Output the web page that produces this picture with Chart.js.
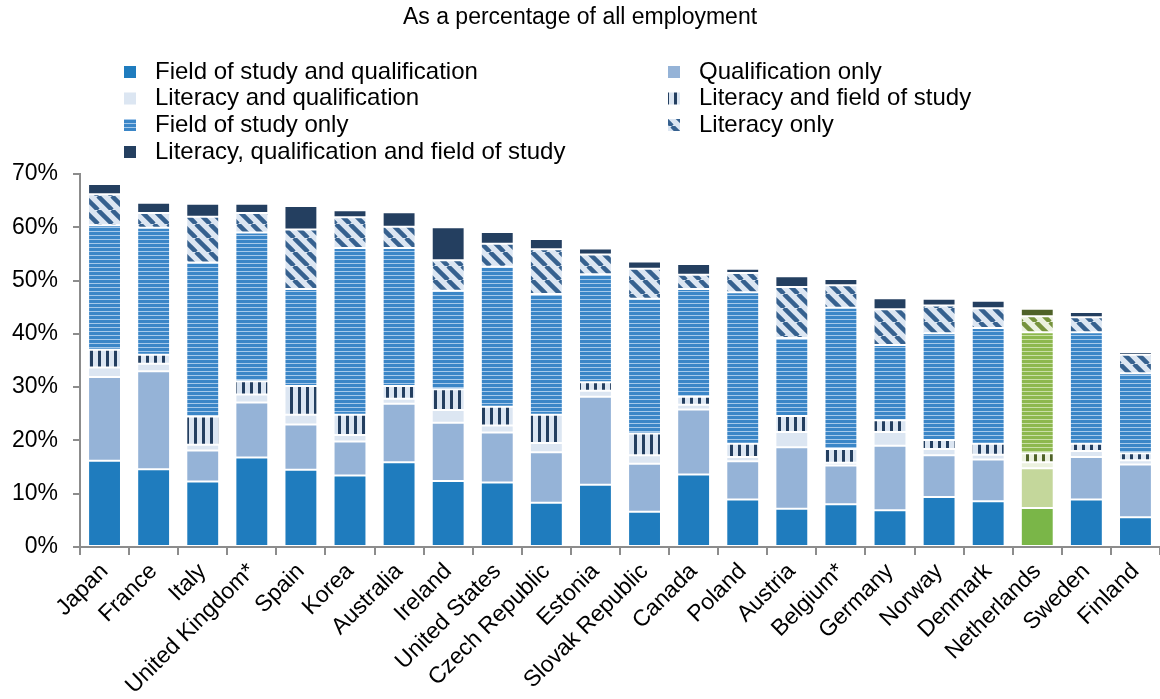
<!DOCTYPE html>
<html>
<head>
<meta charset="utf-8">
<script src="https://cdn.jsdelivr.net/npm/chart.js@4/dist/chart.umd.min.js"></script>
<style>
  html, body { margin: 0; padding: 0; background: #fff; }
  #chart { display: block; }
</style>
</head>
<body>
<canvas id="chart" width="1160" height="699"></canvas>
<script>
// data, % of all employment
const countries = ['Japan', 'France', 'Italy', 'United Kingdom*', 'Spain', 'Korea', 'Australia', 'Ireland',
  'United States', 'Czech Republic', 'Estonia', 'Slovak Republic', 'Canada', 'Poland', 'Austria',
  'Belgium*', 'Germany', 'Norway', 'Denmark', 'Netherlands', 'Sweden', 'Finland'];
const fieldAndQual = [16.2, 14.6, 12.3, 16.8, 14.5, 13.4, 15.9, 12.4, 12.1, 8.3, 11.7, 6.6, 13.6, 8.9, 7.2, 8.0, 6.9, 9.4, 8.6, 7.3, 8.9, 5.6];
const qualOnly = [15.7, 18.4, 5.8, 10.3, 8.5, 6.4, 11.0, 10.9, 9.4, 9.5, 16.5, 9.0, 12.2, 7.2, 11.5, 7.3, 12.1, 7.8, 7.8, 7.5, 8.0, 9.9];
const litAndQual = [1.8, 1.4, 1.1, 1.5, 1.8, 1.2, 0.9, 2.4, 1.3, 1.7, 1.1, 1.6, 0.9, 0.8, 2.9, 0.5, 2.6, 1.2, 0.9, 1.1, 1.1, 0.8];
const litAndField = [3.3, 1.7, 5.3, 2.5, 5.4, 3.8, 2.4, 3.9, 3.5, 5.3, 1.6, 4.1, 1.5, 2.5, 3.0, 2.6, 2.2, 1.7, 2.1, 1.7, 1.4, 1.3];
const fieldOnly = [23.4, 23.8, 28.9, 27.9, 18.2, 31.3, 25.9, 18.5, 26.3, 22.7, 20.3, 25.3, 20.2, 28.4, 14.6, 26.5, 14.1, 20.0, 21.7, 22.7, 20.9, 15.0];
const litOnly = [5.8, 2.8, 8.6, 3.7, 11.2, 5.8, 4.0, 5.7, 4.3, 8.4, 3.7, 5.6, 2.7, 3.6, 9.6, 4.2, 6.7, 5.2, 3.7, 3.0, 2.8, 3.5];
const litQualField = [1.9, 1.9, 2.4, 1.7, 4.4, 1.3, 2.7, 6.2, 2.2, 1.9, 1.1, 1.4, 2.0, 0.8, 2.0, 1.2, 2.1, 1.3, 1.4, 1.4, 1.0, 0.5];
const yTicks = [0, 10, 20, 30, 40, 50, 60, 70];
const highlight = 'Netherlands';

const FONT = "'Liberation Sans', Arial, sans-serif";

// small tiles for the hatched series
function makePattern(w, h, paint) {
  const c = document.createElement('canvas');
  c.width = w;
  c.height = h;
  const g = c.getContext('2d');
  paint(g, w, h);
  return g.createPattern(c, 'repeat');
}
function hStripes(fg, bg) {
  return makePattern(4, 4, (g) => {
    g.fillStyle = bg; g.fillRect(0, 0, 4, 4);
    g.fillStyle = fg; g.fillRect(0, 0, 4, 3);
  });
}
function vStripes(fg, bg) {
  return makePattern(8, 2, (g) => {
    g.fillStyle = bg; g.fillRect(0, 0, 8, 2);
    g.fillStyle = fg; g.fillRect(2, 0, 3, 2);
  });
}
function diagStripes(fg, bg) {
  const s = 14;
  return makePattern(s, s, (g) => {
    g.fillStyle = bg; g.fillRect(0, 0, s, s);
    g.strokeStyle = fg; g.lineWidth = 4.5;
    [-s, 0, s].forEach(k => {
      g.beginPath(); g.moveTo(k, 0); g.lineTo(k + s, s); g.stroke();
    });
  });
}

const blue = {
  fq: '#1F7CBE', q: '#95B3D7', lq: '#DCE6F2',
  lf: vStripes('#243F60', '#DCE6F2'),
  f: hStripes('#3B86C7', '#A6C9EA'),
  l: diagStripes('#36618F', '#DCE6F2'),
  lqf: '#243F60'
};
const green = {
  fq: '#7AB648', q: '#C4D79B', lq: '#EBF1DE',
  lf: vStripes('#4F6228', '#EBF1DE'),
  f: hStripes('#8DB84E', '#C9DFA6'),
  l: diagStripes('#76933C', '#EBF1DE'),
  lqf: '#4F6228'
};

const series = [
  { label: 'Field of study and qualification', data: fieldAndQual, key: 'fq', col: 0, row: 0 },
  { label: 'Qualification only', data: qualOnly, key: 'q', col: 1, row: 0 },
  { label: 'Literacy and qualification', data: litAndQual, key: 'lq', col: 0, row: 1 },
  { label: 'Literacy and field of study', data: litAndField, key: 'lf', col: 1, row: 1 },
  { label: 'Field of study only', data: fieldOnly, key: 'f', col: 0, row: 2 },
  { label: 'Literacy only', data: litOnly, key: 'l', col: 1, row: 2 },
  { label: 'Literacy, qualification and field of study', data: litQualField, key: 'lqf', col: 0, row: 3 }
];

const hiIndex = countries.indexOf(highlight);

// title + two column legend, drawn on the canvas
const headerPlugin = {
  id: 'header',
  afterDraw(chart) {
    const ctx = chart.ctx;
    ctx.save();
    ctx.fillStyle = '#000';
    ctx.textBaseline = 'middle';
    ctx.font = '23px ' + FONT;
    ctx.textAlign = 'center';
    ctx.fillText('As a percentage of all employment', 580, 18);

    ctx.font = '24px ' + FONT;
    ctx.textAlign = 'left';
    const colX = [124, 668];
    const textX = [155, 699];
    const rowY = [72, 98.5, 125, 152];
    series.forEach(s => {
      const y = rowY[s.row];
      ctx.fillStyle = blue[s.key];
      ctx.fillRect(colX[s.col], y - 6, 12, 12);
      ctx.fillStyle = '#000';
      ctx.fillText(s.label, textX[s.col], y);
    });
    ctx.restore();
  }
};

new Chart(document.getElementById('chart'), {
  type: 'bar',
  data: {
    labels: countries,
    datasets: series.map(s => ({
      label: s.label,
      data: s.data,
      backgroundColor: (c) => (c.dataIndex === hiIndex ? green : blue)[s.key],
      borderColor: 'rgba(255,255,255,0.45)',
      borderWidth: 1,
      borderSkipped: false,
      barPercentage: 0.67,
      categoryPercentage: 1.0
    }))
  },
  options: {
    responsive: false,
    animation: false,
    layout: { padding: { top: 174, left: 0, right: 0, bottom: 0 } },
    plugins: {
      legend: { display: false },
      title: { display: false },
      tooltip: { enabled: false }
    },
    scales: {
      x: {
        stacked: true,
        afterFit: (scale) => { scale.height = 152; },
        grid: { offset: true, drawOnChartArea: false, drawTicks: true, tickLength: 8, color: '#8C8C8C', lineWidth: 2 },
        border: { color: '#8C8C8C', width: 2 },
        ticks: {
          autoSkip: false, minRotation: 45, maxRotation: 45, padding: 3,
          color: '#000', font: { family: FONT, size: 23 }
        }
      },
      y: {
        stacked: true,
        min: 0,
        max: 70,
        afterFit: (scale) => { scale.width = 80; },
        afterBuildTicks: (scale) => { scale.ticks = yTicks.map(v => ({ value: v })); },
        grid: { drawOnChartArea: false, drawTicks: true, tickLength: 7, color: '#8C8C8C', lineWidth: 2 },
        border: { color: '#8C8C8C', width: 2 },
        ticks: {
          padding: 15, color: '#000', font: { family: FONT, size: 23 },
          callback: (v) => v + '%'
        }
      }
    }
  },
  plugins: [headerPlugin]
});
</script>
</body>
</html>
